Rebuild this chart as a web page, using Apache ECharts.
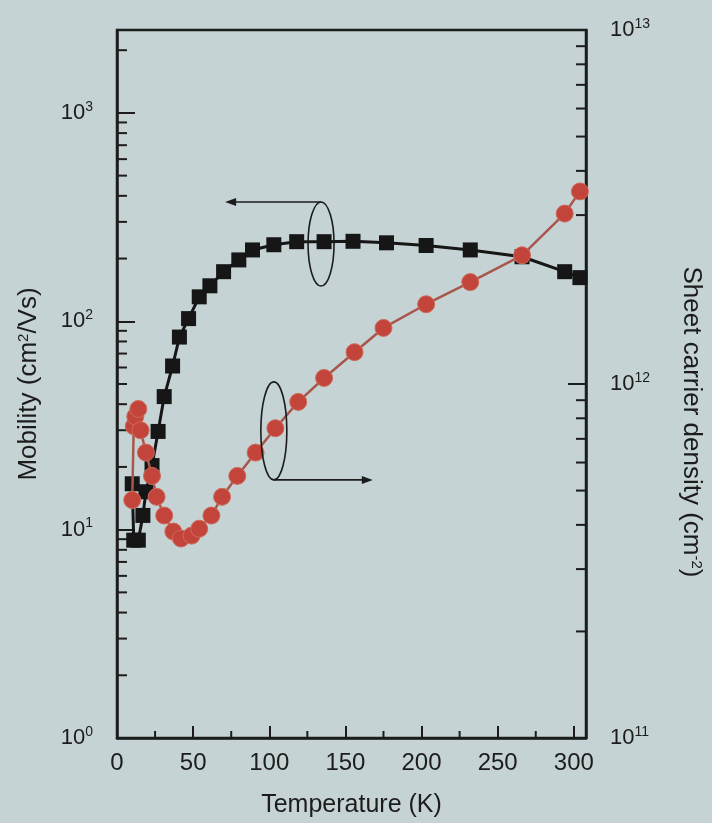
<!DOCTYPE html>
<html>
<head>
<meta charset="utf-8">
<script src="https://cdn.jsdelivr.net/npm/echarts@6/dist/echarts.min.js"></script>
<style>
  html, body { margin: 0; padding: 0; background: #c5d3d5; }
  #chart { width: 712px; height: 823px; }
</style>
</head>
<body>
<div id="chart"></div>
<script>
// Hall mobility vs temperature (left axis)
const mobilityTemp = [10, 11, 14, 17, 19, 23, 27, 31, 36.5, 41, 47, 54, 61, 70, 80, 89, 103, 118, 136, 155, 177, 203, 232, 266, 294, 304];
const mobility     = [16.6, 8.9, 8.9, 11.7, 15.2, 20.3, 29.6, 43.5, 61, 84, 103, 131, 148, 173, 197, 220, 233, 241, 241, 242, 238, 231, 220, 204, 173, 162];

// Sheet carrier density vs temperature (right axis)
const densityTemp = [10, 11, 12, 14, 15.5, 19, 23, 26, 31, 37, 42, 49, 54, 62, 69, 79, 91, 104, 119, 136, 156, 175, 203, 232, 266, 294, 304];
const sheetDensity = [4.7e11, 7.6e11, 8.1e11, 8.5e11, 7.4e11, 6.4e11, 5.5e11, 4.8e11, 4.25e11, 3.83e11, 3.66e11, 3.73e11, 3.9e11, 4.25e11, 4.8e11, 5.5e11, 6.4e11, 7.5e11, 8.9e11, 1.04e12, 1.23e12, 1.44e12, 1.68e12, 1.94e12, 2.31e12, 3.03e12, 3.5e12];

// Axis ranges and tick values
const tempMin = 0, tempMax = 308;
const tempMinorTicks = [25, 75, 125, 175, 225, 275];
const mobilityMin = 1, mobilityMax = 2500;
const mobilityMinorTicks = [2, 3, 4, 5, 6, 7, 8, 9, 20, 30, 40, 50, 60, 70, 80, 90, 200, 300, 400, 500, 600, 700, 800, 900, 2000];
const densityMin = 1e11, densityMax = 1e13;
const densityMinorTicks = [2e11, 3e11, 4e11, 5e11, 6e11, 7e11, 8e11, 9e11, 2e12, 3e12, 4e12, 5e12, 6e12, 7e12, 8e12, 9e12];

const INK = '#1c1c1c';
const FONT = 'Liberation Sans, Arial, sans-serif';
const SQUARE_FILL = '#161616';
const CIRCLE_FILL = '#c2443a';
const CIRCLE_LINE = '#a9574c';

const chart = echarts.init(document.getElementById('chart'), null, { renderer: 'canvas' });

const powerLabel = v => {
  const e = Math.round(Math.log10(v));
  return '{b|10}{s|' + e + '}';
};
const labelRich = {
  b: { fontSize: 22, fontFamily: FONT, color: INK, lineHeight: 26 },
  s: { fontSize: 14, fontFamily: FONT, color: INK, verticalAlign: 'top', lineHeight: 16 }
};
const supRich = { s: { fontSize: 15, fontFamily: FONT, color: INK, verticalAlign: 'top' } };

// short inward minor ticks, placed through the axes' own coordinate mapping
function tickSeries(data, xIdx, yIdx, dx, dy) {
  return {
    type: 'custom', xAxisIndex: xIdx, yAxisIndex: yIdx, data: data,
    clip: false, silent: true, z: 1,
    renderItem: (params, api) => {
      const p = api.coord([api.value(0), api.value(1)]);
      return {
        type: 'line',
        shape: { x1: p[0], y1: p[1], x2: p[0] + dx, y2: p[1] + dy },
        style: { stroke: INK, lineWidth: 2 }
      };
    }
  };
}

const option = {
  backgroundColor: '#c5d3d5',
  animation: false,
  grid: { left: 117, right: 123, top: 30, bottom: 84, show: true, borderColor: INK, borderWidth: 2.5, backgroundColor: 'transparent' },
  xAxis: [{
    type: 'value', min: tempMin, max: tempMax, interval: 50,
    axisLine: { lineStyle: { color: INK, width: 2.5 } },
    axisTick: { inside: true, length: 12, lineStyle: { color: INK, width: 2 } },
    axisLabel: { color: INK, fontSize: 24, fontFamily: FONT, margin: 13, showMaxLabel: false },
    splitLine: { show: false },
    name: 'Temperature (K)', nameLocation: 'middle', nameGap: 55,
    nameTextStyle: { color: INK, fontSize: 25, fontFamily: FONT }
  }],
  yAxis: [{
    type: 'log', logBase: 10, min: mobilityMin, max: mobilityMax, position: 'left',
    axisLine: { onZero: false, lineStyle: { color: INK, width: 2.5 } },
    axisTick: { inside: true, length: 18, lineStyle: { color: INK, width: 2 } },
    axisLabel: { formatter: powerLabel, rich: labelRich, margin: 24, showMaxLabel: false },
    splitLine: { show: false },
    name: 'Mobility (cm{s|2}/Vs)', nameLocation: 'middle', nameGap: 75, nameRotate: 90,
    nameTextStyle: { color: INK, fontSize: 26, fontFamily: FONT, rich: supRich }
  }, {
    type: 'log', logBase: 10, min: densityMin, max: densityMax, position: 'right',
    axisLine: { onZero: false, lineStyle: { color: INK, width: 2.5 } },
    axisTick: { inside: true, length: 18, lineStyle: { color: INK, width: 2 } },
    axisLabel: { formatter: powerLabel, rich: labelRich, margin: 24 },
    splitLine: { show: false },
    name: 'Sheet carrier density (cm{s|-2})', nameLocation: 'middle', nameGap: 92, nameRotate: -90,
    nameTextStyle: { color: INK, fontSize: 26, fontFamily: FONT, rich: supRich, padding: [0, 0, 0, 76] }
  }],
  series: [
    tickSeries(tempMinorTicks.map(v => [v, mobilityMin]), 0, 0, 0, -7),
    tickSeries(mobilityMinorTicks.map(v => [tempMin, v]), 0, 0, 10, 0),
    tickSeries(densityMinorTicks.map(v => [tempMax, v]), 0, 1, -10, 0),
    {
      name: 'Sheet carrier density', type: 'line', yAxisIndex: 1,
      data: densityTemp.map((t, i) => [t, sheetDensity[i]]),
      symbol: 'circle', symbolSize: 17, z: 3,
      lineStyle: { color: CIRCLE_LINE, width: 2.5 },
      itemStyle: { color: CIRCLE_FILL, borderColor: '#cf6a5c', borderWidth: 1 }
    },
    {
      name: 'Mobility', type: 'line', yAxisIndex: 0,
      data: mobilityTemp.map((t, i) => [t, mobility[i]]),
      symbol: 'rect', symbolSize: 15, z: 2,
      lineStyle: { color: SQUARE_FILL, width: 3 },
      itemStyle: { color: SQUARE_FILL }
    }
  ]
};
chart.setOption(option);

// Ellipse + arrow callouts pointing each curve to its axis
function callouts() {
  const muC = chart.convertToPixel({ xAxisIndex: 0, yAxisIndex: 0 }, [134, 235]);
  const muTip = chart.convertToPixel({ xAxisIndex: 0, yAxisIndex: 0 }, [71, 235]);
  const nC = chart.convertToPixel({ xAxisIndex: 0, yAxisIndex: 1 }, [103, 7.37e11]);
  const nTip = chart.convertToPixel({ xAxisIndex: 0, yAxisIndex: 1 }, [168, 7.37e11]);
  const rx = 13, ry1 = 42, ry2 = 49;
  const stroke = { stroke: INK, lineWidth: 1.6, fill: null };
  const y1 = muC[1] - ry1;
  const y2 = nC[1] + ry2;
  return [
    { type: 'ellipse', shape: { cx: muC[0], cy: muC[1], rx: rx, ry: ry1 }, style: stroke, z: 10 },
    { type: 'line', shape: { x1: muC[0], y1: y1, x2: muTip[0] + 8, y2: y1 }, style: { stroke: INK, lineWidth: 1.6 }, z: 10 },
    { type: 'polygon', shape: { points: [[muTip[0], y1], [muTip[0] + 11, y1 - 4], [muTip[0] + 11, y1 + 4]] }, style: { fill: INK }, z: 10 },
    { type: 'ellipse', shape: { cx: nC[0], cy: nC[1], rx: rx, ry: ry2 }, style: stroke, z: 10 },
    { type: 'line', shape: { x1: nC[0], y1: y2, x2: nTip[0] - 8, y2: y2 }, style: { stroke: INK, lineWidth: 1.6 }, z: 10 },
    { type: 'polygon', shape: { points: [[nTip[0], y2], [nTip[0] - 11, y2 - 4], [nTip[0] - 11, y2 + 4]] }, style: { fill: INK }, z: 10 }
  ];
}
chart.setOption({ graphic: callouts() });
</script>
</body>
</html>
